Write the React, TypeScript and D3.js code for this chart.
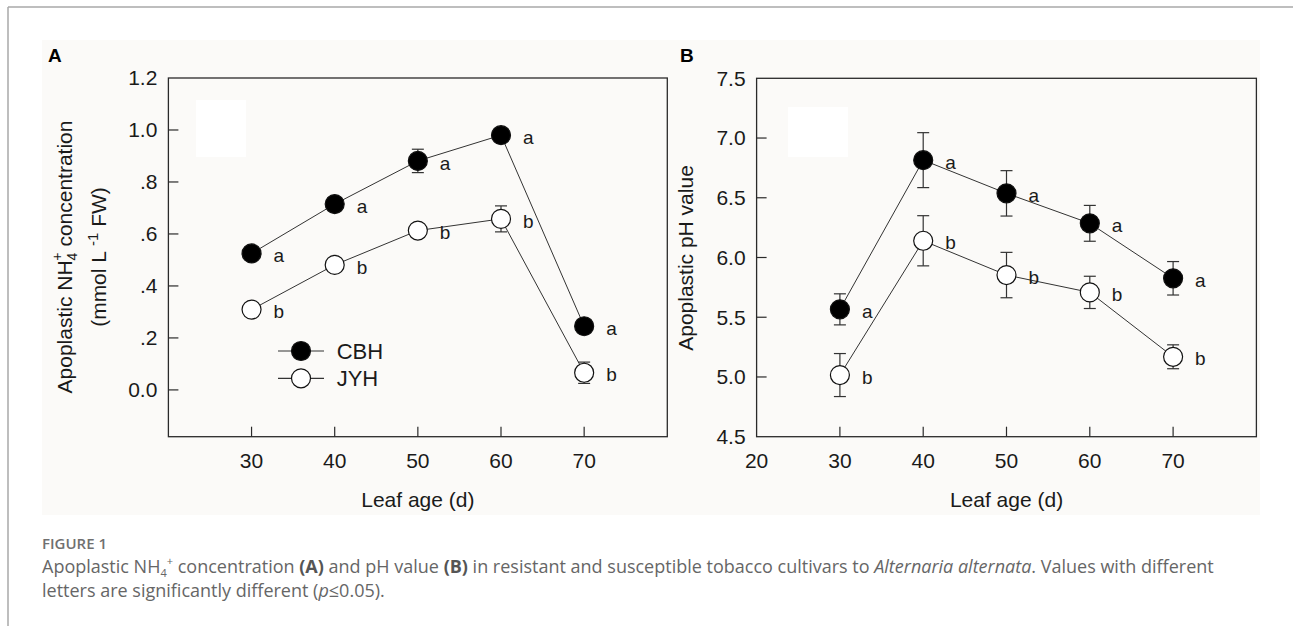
import React from 'react';
import * as d3 from 'd3';

// leaf age (d)
const ages = [30, 40, 50, 60, 70];

// panel A: apoplastic NH4+ (mmol L-1 FW)
const nh4CBH = [0.525, 0.715, 0.881, 0.98, 0.245];
const nh4CBHErr = [0.01, 0.015, 0.045, 0.02, 0.015];
const nh4JYH = [0.309, 0.481, 0.613, 0.658, 0.066];
const nh4JYHErr = [0.01, 0.01, 0.012, 0.05, 0.041];

// panel B: apoplastic pH
const phCBH = [5.566, 6.815, 6.537, 6.286, 5.826];
const phCBHErr = [0.13, 0.23, 0.19, 0.15, 0.14];
const phJYH = [5.016, 6.14, 5.853, 5.708, 5.169];
const phJYHErr = [0.18, 0.21, 0.19, 0.135, 0.1];

const cbhLetters = ['a', 'a', 'a', 'a', 'a'];
const jyhLetters = ['b', 'b', 'b', 'b', 'b'];

const xTicksA = [30, 40, 50, 60, 70];
const xLabelsA = [30, 40, 50, 60, 70];
const yTicksA = [0, 0.2, 0.4, 0.6, 0.8, 1.0];
const yLabelsA = ['0.0', '.2', '.4', '.6', '.8', '1.0', '1.2'];
const yLabelValsA = [0, 0.2, 0.4, 0.6, 0.8, 1.0, 1.2];

const xTicksB = [30, 40, 50, 60, 70];
const xLabelsB = [20, 30, 40, 50, 60, 70];
const yTicksB = [5.0, 5.5, 6.0, 6.5, 7.0];
const yLabelsB = ['4.5', '5.0', '5.5', '6.0', '6.5', '7.0', '7.5'];
const yLabelValsB = [4.5, 5.0, 5.5, 6.0, 6.5, 7.0, 7.5];

const legendNames = ['CBH', 'JYH'];

const FONT = '"Liberation Sans", Arial, Helvetica, sans-serif';
const INK = '#1a1a1a';
const R = 9.5;

type PanelProps = {
    left: number; right: number; top: number; bottom: number;
    xDomain: [number, number]; yDomain: [number, number];
    xTicks: number[]; xLabels: number[];
    yTicks: number[]; yLabelVals: number[]; yLabels: string[];
    cbh: number[]; cbhErr: number[]; jyh: number[]; jyhErr: number[];
};

const Panel = (p: PanelProps) => {
    const x = d3.scaleLinear().domain(p.xDomain).range([p.left, p.right]);
    const y = d3.scaleLinear().domain(p.yDomain).range([p.bottom, p.top]);
    const line = d3.line<number>().x((_, i) => x(ages[i])).y(d => y(d));

    const series = [
        { vals: p.cbh, err: p.cbhErr, fill: '#000', letters: cbhLetters },
        { vals: p.jyh, err: p.jyhErr, fill: '#fff', letters: jyhLetters },
    ];

    return (
        <g fontFamily={FONT} fill={INK}>
            <rect x={p.left} y={p.top} width={p.right - p.left} height={p.bottom - p.top}
                  fill="none" stroke="#2a2a2a" strokeWidth={1.3}/>
            {p.xTicks.map(v => (
                <line key={'xt' + v} x1={x(v)} x2={x(v)} y1={p.bottom} y2={p.bottom - 10}
                      stroke="#2a2a2a" strokeWidth={1.2}/>
            ))}
            {p.xLabels.map(v => (
                <text key={'xl' + v} x={x(v)} y={p.bottom + 24} dy="0.35em" textAnchor="middle" fontSize={21}>{v}</text>
            ))}
            {p.yTicks.map(v => (
                <line key={'yt' + v} x1={p.left} x2={p.left + 10} y1={y(v)} y2={y(v)}
                      stroke="#2a2a2a" strokeWidth={1.2}/>
            ))}
            {p.yLabelVals.map((v, i) => (
                <text key={'yl' + v} x={p.left - 11} y={y(v)} dy="0.35em" textAnchor="end" fontSize={21}>{p.yLabels[i]}</text>
            ))}
            <text x={x(50)} y={500} dy="0.35em" textAnchor="middle" fontSize={21}>Leaf age (d)</text>

            {series.map((s, k) => (
                <path key={'ln' + k} d={line(s.vals) || ''} fill="none" stroke="#333" strokeWidth={1}/>
            ))}
            {series.map((s, k) => s.vals.map((v, i) => {
                const cx = x(ages[i]);
                const y0 = y(v + s.err[i]);
                const y1 = y(v - s.err[i]);
                return (
                    <g key={'eb' + k + i} stroke="#333" strokeWidth={1.2}>
                        <line x1={cx} x2={cx} y1={y0} y2={y1}/>
                        <line x1={cx - 6} x2={cx + 6} y1={y0} y2={y0}/>
                        <line x1={cx - 6} x2={cx + 6} y1={y1} y2={y1}/>
                    </g>
                );
            }))}
            {series.map((s, k) => s.vals.map((v, i) => (
                <g key={'mk' + k + i}>
                    <circle cx={x(ages[i])} cy={y(v)} r={R} fill={s.fill} stroke="#111" strokeWidth={1.2}/>
                    <text x={x(ages[i]) + 22} y={y(v) + 2} dy="0.35em" fontSize={19}>{s.letters[i]}</text>
                </g>
            )))}
        </g>
    );
};

const App = () => {
    const legendY = [351, 378.3];
    return (
        <svg width={1293} height={626} style={{ position: 'absolute', left: 0, top: 0, display: 'block', background: '#fff' }}>
            {/* page frame */}
            <line x1={8} x2={1293} y1={7} y2={7} stroke="#a8a8a8" strokeWidth={1.5}/>
            <line x1={8} x2={8} y1={7} y2={626} stroke="#a8a8a8" strokeWidth={1.5}/>
            {/* scanned figure background */}
            <rect x={42} y={40} width={1218} height={475} fill="#fbfaf8"/>
            <rect x={196} y={100} width={50} height={57} fill="#fff"/>
            <rect x={788} y={107} width={60} height={50} fill="#fff"/>

            <text x={48} y={55} dy="0.35em" fontFamily={FONT} fontWeight={700} fontSize={19} fill="#000">A</text>
            <text x={680} y={55} dy="0.35em" fontFamily={FONT} fontWeight={700} fontSize={19} fill="#000">B</text>

            <Panel left={168.4} right={667.3} top={78} bottom={436.7}
                   xDomain={[20, 80]} yDomain={[-0.18, 1.2]}
                   xTicks={xTicksA} xLabels={xLabelsA}
                   yTicks={yTicksA} yLabelVals={yLabelValsA} yLabels={yLabelsA}
                   cbh={nh4CBH} cbhErr={nh4CBHErr} jyh={nh4JYH} jyhErr={nh4JYHErr}/>
            <Panel left={756.6} right={1256.4} top={78.3} bottom={436.7}
                   xDomain={[20, 80]} yDomain={[4.5, 7.5]}
                   xTicks={xTicksB} xLabels={xLabelsB}
                   yTicks={yTicksB} yLabelVals={yLabelValsB} yLabels={yLabelsB}
                   cbh={phCBH} cbhErr={phCBHErr} jyh={phJYH} jyhErr={phJYHErr}/>

            {/* y titles */}
            <text transform="translate(72,257) rotate(-90)" textAnchor="middle" fontFamily={FONT} fontSize={21} fill={INK}>
                {'Apoplastic NH'}<tspan fontSize={14} dy={5}>4</tspan><tspan fontSize={14} dx={-8} dy={-15}>+</tspan><tspan dy={10}>{' concentration'}</tspan>
            </text>
            <text transform="translate(106,257) rotate(-90)" textAnchor="middle" fontFamily={FONT} fontSize={21} fill={INK}>
                {'(mmol L '}<tspan fontSize={15} dy={-8}>-1</tspan><tspan dy={8}>{' FW)'}</tspan>
            </text>
            <text transform="translate(693,258) rotate(-90)" textAnchor="middle" fontFamily={FONT} fontSize={21} fill={INK}>
                Apoplastic pH value
            </text>

            {/* legend */}
            {legendNames.map((n, i) => (
                <g key={n} fontFamily={FONT}>
                    <line x1={278} x2={324} y1={legendY[i]} y2={legendY[i]} stroke="#333" strokeWidth={1.2}/>
                    <circle cx={301} cy={legendY[i]} r={R} fill={i === 0 ? '#000' : '#fff'} stroke="#111" strokeWidth={1.2}/>
                    <text x={336.7} y={legendY[i]} dy="0.35em" fontSize={22} fill={INK}>{n}</text>
                </g>
            ))}

            {/* caption */}
            <g fontFamily='"Open Sans", "Noto Sans", sans-serif' fill="#666">
                <text x={42} y={549} fontSize={15} fontWeight={600} fill="#707070">FIGURE 1</text>
                <text x={42} y={573} fontSize={18}>
                    {'Apoplastic NH'}<tspan fontSize={11} dy={4}>4</tspan><tspan fontSize={11} dy={-12}>+</tspan><tspan dy={8}>{' concentration '}</tspan><tspan fontWeight={700} fill="#555">(A)</tspan>{' and pH value '}<tspan fontWeight={700} fill="#555">(B)</tspan>{' in resistant and susceptible tobacco cultivars to '}<tspan fontStyle="italic">Alternaria alternata</tspan>{'. Values with different'}
                </text>
                <text x={42} y={597} fontSize={18}>
                    {'letters are significantly different ('}<tspan fontStyle="italic">p</tspan>{'≤0.05).'}
                </text>
            </g>
        </svg>
    );
};

export default App;
